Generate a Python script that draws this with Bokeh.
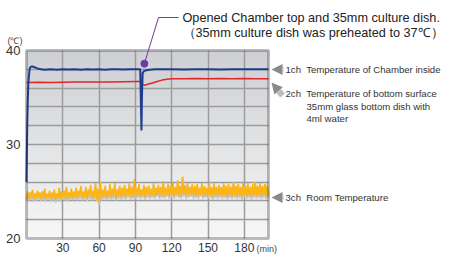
import numpy as np
from bokeh.plotting import figure
from bokeh.models import (Label, Arrow, NormalHead, FixedTicker, Range1d, ColumnDataSource,
                          LinearAxis, Grid, BoxAnnotation)
from bokeh.transform import dodge
from bokeh.embed import file_html
from bokeh.resources import INLINE

# ---------------- data ----------------
x_ticks = [30, 60, 90, 120, 150, 180]
y_ticks = [20, 30, 40]
y_grid = [22, 24, 26, 28, 30, 32, 34, 36, 38]

# 1ch  Temperature of Chamber inside
ch1_t = [0, 0.3, 0.6, 1, 1.5, 2, 2.5, 3, 4, 5, 6, 8, 10, 12, 15, 20, 25, 30, 35, 40,
         45, 50, 55, 60, 65, 70, 75, 80, 85, 90, 94, 94.6, 95, 95.4, 96, 97, 99, 102,
         106, 110, 120, 130, 140, 150, 160, 170, 180, 190, 200]
ch1_v = [26.0, 29.0, 32.0, 34.5, 36.3, 37.3, 37.9, 38.2, 38.3, 38.3, 38.25, 38.15, 38.05,
         38.0, 37.95, 38.0, 37.95, 38.0, 37.97, 38.0, 37.95, 38.0, 37.98, 38.0, 37.95,
         38.0, 38.0, 37.97, 38.0, 38.0, 38.0, 34.0, 31.5, 35.0, 37.6, 37.8, 37.9, 37.95,
         38.0, 38.0, 38.0, 37.98, 38.0, 38.0, 37.98, 38.0, 38.0, 38.0, 38.0]

# 2ch  Temperature of bottom surface
ch2_t = [0, 10, 20, 30, 40, 50, 60, 70, 80, 90, 94, 95, 96, 98, 100, 104, 108, 112, 116,
         120, 130, 140, 150, 160, 170, 180, 190, 200]
ch2_v = [36.6, 36.62, 36.6, 36.63, 36.65, 36.64, 36.66, 36.65, 36.68, 36.7, 36.7, 36.6,
         36.4, 36.3, 36.4, 36.55, 36.7, 36.85, 36.95, 37.0, 37.0, 37.02, 37.0, 37.03,
         37.0, 37.02, 37.0, 37.0]

# 3ch  Room Temperature (one reading per minute)
ch3_v = [
    24.3, 25.0, 24.2, 24.9, 24.4, 25.2, 24.2, 24.8, 24.3, 25.1, 24.4, 24.9, 24.2, 25.0, 24.3, 25.3, 24.2, 24.8, 24.4, 25.1,
    24.2, 24.9, 24.3, 25.2, 24.1, 24.8, 24.3, 25.4, 24.2, 25.0, 24.4, 25.1, 24.3, 25.5, 24.2, 24.9, 24.4, 25.3, 24.3, 25.0,
    24.4, 25.4, 24.3, 25.1, 24.5, 25.6, 24.3, 25.0, 24.4, 25.5, 24.2, 25.2, 24.5, 25.7, 24.3, 25.1, 24.4, 25.9, 24.2, 25.3,
    23.8, 26.0, 24.3, 25.2, 24.5, 25.6, 24.3, 25.1, 24.5, 25.8, 24.4, 25.3, 24.5, 25.9, 24.3, 25.2, 24.5, 25.6, 24.4, 25.4,
    24.5, 25.7, 24.4, 25.3, 24.6, 25.9, 24.4, 25.5, 24.5, 26.3, 24.4, 25.4, 24.6, 25.8, 24.5, 25.2, 24.6, 25.7, 24.4, 25.5,
    24.6, 25.6, 24.5, 25.3, 24.6, 25.9, 24.5, 25.4, 24.7, 25.7, 24.5, 25.5, 24.6, 26.1, 24.5, 25.4, 24.7, 25.8, 24.5, 25.6,
    24.6, 25.9, 24.5, 25.5, 24.7, 26.2, 24.6, 25.6, 24.5, 26.6, 24.7, 25.7, 24.5, 25.9, 24.6, 25.5, 24.7, 25.8, 24.5, 25.6,
    24.6, 25.8, 24.5, 25.4, 24.7, 25.9, 24.5, 25.6, 24.6, 25.4, 24.5, 25.8, 24.6, 25.5, 24.4, 25.9, 24.6, 25.5, 24.5, 25.7,
    24.6, 25.5, 24.5, 25.9, 24.6, 25.6, 24.4, 25.8, 24.6, 25.5, 24.5, 26.0, 24.6, 25.6, 24.5, 25.8, 24.6, 25.5, 24.4, 25.9,
    24.6, 25.6, 24.5, 25.9, 24.6, 25.5, 24.4, 25.8, 24.6, 26.0, 24.5, 25.6, 24.6, 25.9, 24.5, 25.6, 24.6, 25.8, 24.5, 25.7,
    24.6]
ch3_t = list(range(len(ch3_v)))

# event annotation anchor (time [min], temperature [C])
event_t, event_T = 97.4, 38.6

# ---------------- layout ----------------
W, H = 444, 254
CL, CR, CT, CB = 26, 268, 50, 238     # chart box edges in canvas px
KX = (CR - CL) / 200.0
KY = (CB - CT) / 20.0

def X(px):  # canvas px -> data x
    return (px - CL) / KX

def Y(py):  # canvas px -> data y
    return 20 + (CB - py) / KY

p = figure(width=W, height=H, x_range=Range1d(X(0), X(W)), y_range=Range1d(Y(H), Y(0)),
           x_axis_location=None, y_axis_location=None, min_border=0,
           output_backend="svg", toolbar_location=None)
p.title_location = None
p.outline_line_color = None
p.background_fill_color = "white"
p.border_fill_color = "white"
for g in p.grid:
    g.visible = False

# vertical gradient background of the chart box
n = 64
img = np.empty((n, 1), dtype=np.uint32)
view = img.view(dtype=np.uint8).reshape((n, 1, 4))
top = np.array([0xCE, 0xD0, 0xD3])
bot = np.array([0xF7, 0xF7, 0xF7])
for i in range(n):
    c = bot + (top - bot) * i / (n - 1)
    view[i, 0, :3] = c.astype(np.uint8)
    view[i, 0, 3] = 255
p.image_rgba(image=[img], x=0, y=20, dw=200, dh=20, level="image")

# grids limited to the chart box
gx = Grid(dimension=0, ticker=FixedTicker(ticks=x_ticks), cross_bounds=(20, 40),
          grid_line_color="#9c9c9c", grid_line_width=1.5)
gy = Grid(dimension=1, ticker=FixedTicker(ticks=y_grid), cross_bounds=(0, 200),
          grid_line_color="#9c9c9c", grid_line_width=1.5)
p.add_layout(gx)
p.add_layout(gy)

# axes drawn at the chart box edges
xax = LinearAxis(fixed_location=20, ticker=FixedTicker(ticks=x_ticks), bounds=(0, 200))
yax = LinearAxis(fixed_location=0, ticker=FixedTicker(ticks=y_ticks), bounds=(20, 40))
for ax in (xax, yax):
    ax.axis_line_color = None
    ax.major_tick_line_color = None
    ax.minor_tick_line_color = None
    ax.major_tick_out = 0
    ax.major_tick_in = 0
    ax.minor_tick_out = 0
    ax.minor_tick_in = 0
    ax.major_label_text_color = "#333333"
    ax.major_label_text_font = "Liberation Sans"
xax.major_label_text_font_size = "12px"
yax.major_label_text_font_size = "13px"
xax.major_label_standoff = 4
yax.major_label_standoff = 6
p.add_layout(xax, "below")
p.add_layout(yax, "left")

# series
src3 = ColumnDataSource(dict(t=ch3_t, v=ch3_v))
p.line(x="t", y=dodge("v", -0.25, range=p.y_range), source=src3,
       line_color="#c2c2c2", line_width=1.8)
p.line(x="t", y="v", source=src3, line_color="#FDB515", line_width=1.6)
p.line(ch2_t, ch2_v, line_color="#E3242B", line_width=1.5)
p.line(ch1_t, ch1_v, line_color="#1F3C8E", line_width=2.0)

# chart box border
p.add_layout(BoxAnnotation(left=0, right=200, bottom=20, top=40, fill_color=None,
                           line_color="#262626", line_width=3))

# event annotation
purple = "#6E3C9E"
p.scatter([event_t], [event_T], size=7, color=purple)
p.add_layout(Arrow(end=None, x_start=event_t, y_start=event_T, x_end=X(158), y_end=Y(17),
                   line_color=purple, line_width=1))
p.add_layout(Arrow(end=None, x_start=X(158), y_start=Y(17), x_end=X(178), y_end=Y(17),
                   line_color=purple, line_width=1))

FONT = "Liberation Sans"
def label(px, py, text, size, color="#333333"):
    p.add_layout(Label(x=X(px), y=Y(py), text=text, text_font=FONT, text_font_size=size,
                       text_color=color, text_baseline="middle", text_align="left"))

label(182, 17, "Opened Chamber top and 35mm culture dish.", "12.7px", "#222222")
label(182, 32, "（35mm culture dish was preheated to 37℃）", "12.7px", "#222222")

label(7, 40, "(℃)", "9px", "#444444")
label(256, 248, "(min)", "9px", "#444444")

# right side legend texts and arrows
def block_arrow(x0, y0, x1, y1):
    p.add_layout(Arrow(end=NormalHead(size=11, fill_color="#8a8a8a", line_color=None),
                       x_start=X(x0), y_start=Y(y0), x_end=X(x1), y_end=Y(y1),
                       line_color="#bdbdbd", line_width=6))

block_arrow(283, 69, 271, 69)
block_arrow(282, 95, 271, 82)
block_arrow(283, 197, 271, 197)

rs = "9.6px"
label(285, 69, "1ch\u00a0 Temperature of Chamber inside", rs)
label(285, 93, "2ch\u00a0 Temperature of bottom surface", rs)
label(306, 105.5, "35mm glass bottom dish with", rs)
label(306, 118, "4ml water", rs)
label(285, 197, "3ch\u00a0 Room Temperature", rs)

open("out.html", "w").write(file_html(p, INLINE))
